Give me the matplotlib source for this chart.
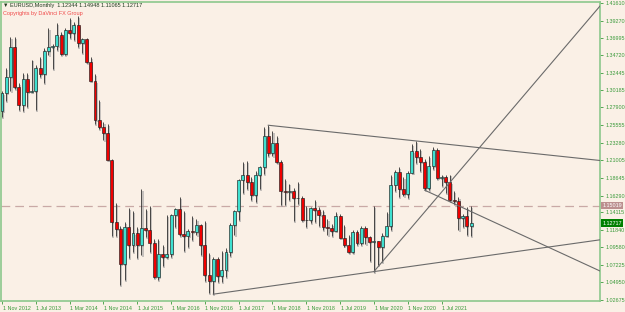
import matplotlib
matplotlib.use('Agg')
import matplotlib.pyplot as plt
import matplotlib.transforms as mtransforms

plt.rcParams['font.family'] = ['Liberation Sans', 'DejaVu Sans']

# EURUSD monthly, Nov 2012 .. Feb 2022
opens = [1.2743, 1.2982, 1.3193, 1.3579, 1.3055, 1.2819, 1.3167, 1.2997, 1.3008, 1.3301, 1.3221, 1.3525,
         1.3583, 1.3590, 1.3743, 1.3486, 1.3804, 1.3770, 1.3868, 1.3633, 1.3692, 1.3390, 1.3131, 1.2628,
         1.2528, 1.2452, 1.2098, 1.1290, 1.1197, 1.0731, 1.1222, 1.0989, 1.1147, 1.0984, 1.1212, 1.1177,
         1.1006, 1.0565, 1.0861, 1.0831, 1.0872, 1.1380, 1.1453, 1.1132, 1.1103, 1.1174, 1.1157, 1.1241,
         1.0980, 1.0588, 1.0517, 1.0798, 1.0575, 1.0652, 1.0896, 1.1243, 1.1426, 1.1837, 1.1907, 1.1813,
         1.1644, 1.1904, 1.2004, 1.2414, 1.2192, 1.2324, 1.2079, 1.1693, 1.1685, 1.1689, 1.1600, 1.1604,
         1.1312, 1.1316, 1.1467, 1.1443, 1.1372, 1.1217, 1.1214, 1.1169, 1.1371, 1.1075, 1.0988, 1.0898,
         1.1152, 1.1017, 1.1213, 1.1092, 1.1027, 1.1031, 1.0955, 1.1102, 1.1234, 1.1778, 1.1936, 1.1721,
         1.1647, 1.1928, 1.2215, 1.2137, 1.2075, 1.1728, 1.2019, 1.2227, 1.1858, 1.1870, 1.1807, 1.1579,
         1.1558, 1.1338, 1.1370, 1.12344]
highs = [1.3009, 1.3308, 1.3711, 1.3711, 1.3110, 1.3243, 1.3242, 1.3417, 1.3346, 1.3453, 1.3569, 1.3832,
         1.3620, 1.3893, 1.3775, 1.3825, 1.3967, 1.3906, 1.3993, 1.3700, 1.3700, 1.3444, 1.3221, 1.2887,
         1.2601, 1.2570, 1.2107, 1.1534, 1.1240, 1.1290, 1.1467, 1.1436, 1.1215, 1.1714, 1.1460, 1.1495,
         1.1062, 1.1059, 1.0986, 1.1376, 1.1396, 1.1464, 1.1616, 1.1428, 1.1198, 1.1366, 1.1327, 1.1258,
         1.1300, 1.0874, 1.0829, 1.0829, 1.0906, 1.0950, 1.1268, 1.1445, 1.1847, 1.2070, 1.2092, 1.1880,
         1.1961, 1.2023, 1.2537, 1.2555, 1.2476, 1.2414, 1.2096, 1.1852, 1.1791, 1.1734, 1.1815, 1.1625,
         1.1500, 1.1486, 1.1570, 1.1489, 1.1449, 1.1324, 1.1264, 1.1412, 1.1385, 1.1250, 1.1110, 1.1179,
         1.1176, 1.1240, 1.1239, 1.1097, 1.1495, 1.1038, 1.1147, 1.1422, 1.1908, 1.1966, 1.2011, 1.1881,
         1.1960, 1.2310, 1.2349, 1.2243, 1.2114, 1.2150, 1.2266, 1.2254, 1.1909, 1.1900, 1.1909, 1.1692,
         1.1616, 1.1386, 1.1482, 1.14948]
lows = [1.2661, 1.2876, 1.3000, 1.3035, 1.2750, 1.2745, 1.2795, 1.2993, 1.2755, 1.3183, 1.3105, 1.3480,
        1.3296, 1.3547, 1.3477, 1.3476, 1.3705, 1.3673, 1.3585, 1.3503, 1.3367, 1.3130, 1.2570, 1.2500,
        1.2357, 1.2095, 1.1098, 1.1100, 1.0462, 1.0520, 1.0819, 1.0889, 1.0808, 1.0848, 1.1087, 1.0897,
        1.0557, 1.0523, 1.0711, 1.0808, 1.0822, 1.1217, 1.1098, 1.0912, 1.0952, 1.1046, 1.1122, 1.0852,
        1.0518, 1.0352, 1.0340, 1.0494, 1.0494, 1.0570, 1.0839, 1.1118, 1.1312, 1.1662, 1.1717, 1.1574,
        1.1554, 1.1717, 1.1916, 1.2153, 1.2154, 1.2055, 1.1510, 1.1508, 1.1574, 1.1301, 1.1526, 1.1302,
        1.1216, 1.1269, 1.1289, 1.1234, 1.1176, 1.1110, 1.1107, 1.1168, 1.1070, 1.0965, 1.0879, 1.0879,
        1.0981, 1.0981, 1.0992, 1.0778, 1.0636, 1.0727, 1.0767, 1.1098, 1.1185, 1.1696, 1.1612, 1.1622,
        1.1603, 1.1925, 1.2055, 1.1952, 1.1704, 1.1704, 1.1986, 1.1847, 1.1752, 1.1664, 1.1563, 1.1524,
        1.1186, 1.1222, 1.1121, 1.11065]
closes = [1.2982, 1.3193, 1.3579, 1.3055, 1.2819, 1.3167, 1.2997, 1.3008, 1.3301, 1.3221, 1.3525, 1.3583,
          1.3590, 1.3743, 1.3486, 1.3804, 1.3770, 1.3868, 1.3633, 1.3692, 1.3390, 1.3131, 1.2628, 1.2528,
          1.2452, 1.2098, 1.1290, 1.1197, 1.0731, 1.1222, 1.0989, 1.1147, 1.0984, 1.1212, 1.1177, 1.1006,
          1.0565, 1.0861, 1.0831, 1.0872, 1.1380, 1.1453, 1.1132, 1.1103, 1.1174, 1.1157, 1.1241, 1.0980,
          1.0588, 1.0517, 1.0798, 1.0575, 1.0652, 1.0896, 1.1243, 1.1426, 1.1837, 1.1907, 1.1813, 1.1644,
          1.1904, 1.2004, 1.2414, 1.2192, 1.2324, 1.2079, 1.1693, 1.1685, 1.1689, 1.1600, 1.1604, 1.1312,
          1.1316, 1.1467, 1.1443, 1.1372, 1.1217, 1.1214, 1.1169, 1.1371, 1.1075, 1.0988, 1.0898, 1.1152,
          1.1017, 1.1213, 1.1092, 1.1027, 1.1031, 1.0955, 1.1102, 1.1234, 1.1778, 1.1936, 1.1721, 1.1647,
          1.1928, 1.2215, 1.2137, 1.2075, 1.1728, 1.2019, 1.2227, 1.1858, 1.1870, 1.1807, 1.1579, 1.1558,
          1.1338, 1.1370, 1.1235, 1.12717]

date_labels = ['1 Nov 2012', '1 Jul 2013', '1 Mar 2014', '1 Nov 2014', '1 Jul 2015', '1 Mar 2016',
               '1 Nov 2016', '1 Jul 2017', '1 Mar 2018', '1 Nov 2018', '1 Jul 2019', '1 Mar 2020',
               '1 Nov 2020', '1 Jul 2021']
price_ticks = [1.41610, 1.39270, 1.36995, 1.34720, 1.32445, 1.30185, 1.27900, 1.25555, 1.23280,
               1.21005, 1.18645, 1.16290, 1.14115, 1.11840, 1.09580, 1.07225, 1.04950, 1.02675]

# trendlines: (bar, price) -> (bar, price), extended to the right edge
trend_lines = [((63, 1.2555), (98, 1.2349)),
               ((50, 1.0340), (88, 1.0636)),
               ((88, 1.0636), (141.5, 1.4118)),
               ((100, 1.1704), (141.5, 1.0644))]
hline_price = 1.15019
current_price = closes[-1]

bg = '#FAF0E6'
green = '#3A9A3A'
frame = '#8CC88C'

fig = plt.figure(figsize=(6.25, 3.12), dpi=100, facecolor=bg)
ax = fig.add_axes([1.5 / 625, 1 - 300.5 / 312, 598.5 / 625, 298.5 / 312], facecolor=bg)
x_min, x_max = -0.12, 141.5
ax.set_xlim(x_min, x_max)
ax.set_ylim(1.0257, 1.4171)

n = len(opens)
xs = list(range(n))
dx = 0.26           # shadow offset (bars)
dy = 0.0026         # shadow offset (price)
w = 0.7
body_lo = [min(o, c) for o, c in zip(opens, closes)]
body_h = [max(abs(c - o), 0.0006) for o, c in zip(opens, closes)]
cols = ['#3FE0D0' if c >= o else '#F00000' for o, c in zip(opens, closes)]

# shadow
ax.vlines([x + dx for x in xs], [l - dy for l in lows], [h - dy for h in highs],
          color='#9A9A9A', alpha=0.55, lw=1.4, zorder=1)
ax.bar([x + dx for x in xs], body_h, w, [b - dy for b in body_lo],
       color='#9A9A9A', alpha=0.55, lw=0, zorder=1)
# wicks and bodies
ax.vlines(xs, lows, highs, color='#303030', lw=0.6, zorder=2)
ax.bar(xs, body_h, w, body_lo, color=cols, edgecolor='#202020', lw=0.45, zorder=3)

# horizontal dashed line
ax.axhline(hline_price, color='#C9A9A6', lw=0.9, dashes=(7, 4), zorder=0.5)

# trendlines
for (x0, y0), (x1, y1) in trend_lines:
    slope = (y1 - y0) / (x1 - x0)
    ax.plot([x0, x_max + 5], [y0, y0 + slope * (x_max + 5 - x0)],
            color='#6A6A6A', lw=0.8, zorder=4)

# axes styling
for s in ax.spines.values():
    s.set_color(frame)
    s.set_linewidth(1.2)
ax.yaxis.tick_right()
ax.set_yticks(price_ticks)
ax.set_yticklabels(['%.5f' % p for p in price_ticks])
ax.set_xticks(range(0, 8 * len(date_labels), 8))
ax.set_xticklabels(date_labels, ha='left')
ax.tick_params(axis='both', colors=green, labelcolor=green, labelsize=3.9,
               length=2.5, width=0.6, pad=1.2, direction='out')
for lab in ax.get_xticklabels():
    lab.set_transform(lab.get_transform() + mtransforms.ScaledTranslation(0.6 / 100, 0, fig.dpi_scale_trans))

# price tags on the scale
trans = mtransforms.blended_transform_factory(ax.transAxes, ax.transData)
ax.text(1.004, hline_price, '%.5f' % hline_price, transform=trans, ha='left', va='center',
        color='white', fontsize=3.9, clip_on=False,
        bbox=dict(boxstyle='square,pad=0.25', fc='#BC8F8F', ec='none'), zorder=6)
ax.text(1.004, current_price, '%.5f' % current_price, transform=trans, ha='left', va='center',
        color='white', fontsize=3.9, clip_on=False,
        bbox=dict(boxstyle='square,pad=0.25', fc='#008000', ec='none'), zorder=6)

# header texts
fig.text(3 / 625, 1 - 6 / 312, '\u25bc EURUSD,Monthly  %.5f %.5f %.5f %.5f'
         % (opens[-1], highs[-1], lows[-1], closes[-1]),
         fontsize=4.0, color='#1E3A1E', va='center', ha='left')
fig.text(3 / 625, 1 - 13.5 / 312, 'Copyrights by DaVinci FX Group',
         fontsize=4.0, color='#F04848', va='center', ha='left')

fig.savefig('out.png', dpi=100, facecolor=bg)
plt.close('all')
